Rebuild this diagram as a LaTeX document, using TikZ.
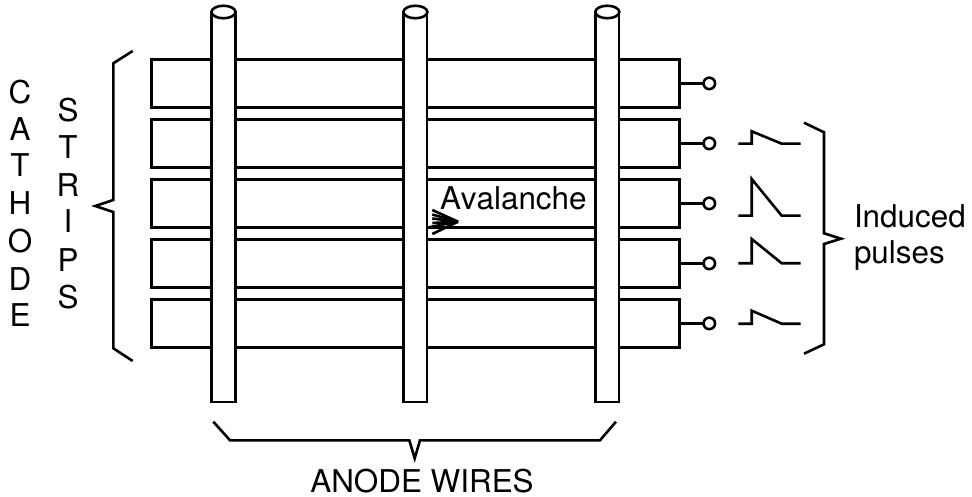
\documentclass[tikz,border=0pt]{standalone}
\usepackage{fontspec}
\setmainfont[Kerning=Off]{TeX Gyre Heros}
\usetikzlibrary{shapes.geometric}
\tikzset{
  ink/.style={line width=2.6pt,black},
  stripbox/.style={ink,draw,fill=white,rectangle,minimum width=528.5pt,minimum height=48pt,inner sep=0pt,outer sep=0pt},
  wirebox/.style={ink,draw,fill=white,rectangle,minimum width=23.5pt,minimum height=390pt,inner sep=0pt,outer sep=0pt},
  wirecap/.style={ink,draw,fill=white,ellipse,minimum width=24pt,minimum height=12.5pt,inner sep=0pt,outer sep=0pt},
  term/.style={ink,draw,fill=white,circle,minimum size=11.5pt,inner sep=0pt,outer sep=0pt},
  lbl/.style={inner sep=0pt,outer sep=0pt,font=\fontsize{31.4pt}{36pt}\selectfont,text=black},
  trace/.style={ink,line join=miter,line cap=butt}
}
\begin{document}
\begin{tikzpicture}[x=1pt,y=-1pt]
\useasboundingbox (0,0) rectangle (972,497);
% strips
\foreach \n/\y in {1/83.4,2/143.4,3/203.4,4/263.4,5/323.4}{
  \node[stripbox] (s\n) at (415.5,\y) {};
  \node[term] (t\n) at (709.3,\y) {};
  \draw[ink] (s\n.east) -- (t\n.west);
}
% wires
\foreach \n/\x in {1/223.5,2/415.4,3/607.3}{
  \node[wirebox] (w\n) at (\x,207) {};
  \node[wirecap] (c\n) at (\x,12) {};
}
% pulses
\draw[trace] (738.3,143.7) -- (751.7,143.7) -- (751.7,131.3) -- (781.7,143.7) -- (800.7,143.7);
\draw[trace] (738.3,215.7) -- (751.7,215.7) -- (751.7,179) -- (781.7,215.7) -- (800.7,215.7);
\draw[trace] (738.3,263.3) -- (751.7,263.3) -- (751.7,239) -- (781.7,263.3) -- (800.7,263.3);
\draw[trace] (738.3,323.7) -- (751.7,323.7) -- (751.7,310.7) -- (781.7,323.7) -- (800.7,323.7);
% braces
\draw[trace] (804,122.7) -- (824,132.3) -- (824,233.3) -- (841,238.7) -- (824,244) -- (824,344.3) -- (804,353.7);
\draw[trace] (132.7,51) -- (113.3,63.3) -- (113.3,200) -- (95.3,206) -- (113.3,212) -- (113.3,348.3) -- (132.7,361);
\draw[trace] (213.3,421.7) -- (230,440.3) -- (409.3,440.3) -- (414.7,458.3) -- (420,440.3) -- (600,440.3) -- (616,421.7);
% avalanche arrow
\coordinate (tip) at (458,221.7);
\foreach \x/\y in {432.3/210,432.3/214.5,432.3/218.5,432.3/223,430/227,432.3/234}{
  \draw[ink] (\x,\y) -- (tip);
}
\node[lbl,anchor=base west] (av) at (440,209.5) {Avalanche};
\node[lbl,anchor=base west] (ind) at (854,227.5) {Induced};
\node[lbl,anchor=base west] (pul) at (854,263.5) {pulses};
\node[lbl,anchor=base] (an) at (422,492.5) {ANODE WIRES};
\foreach \c/\y in {C/103.3,A/140.7,T/177,H/215,O/252.7,D/290,E/326.7}{
  \node[lbl,anchor=base] at (20,\y) {\c};
}
\foreach \c/\y in {S/121.7,T/159,R/196.7,I/233,P/271,S/308}{
  \node[lbl,anchor=base] at (68,\y) {\c};
}
\end{tikzpicture}
\end{document}
